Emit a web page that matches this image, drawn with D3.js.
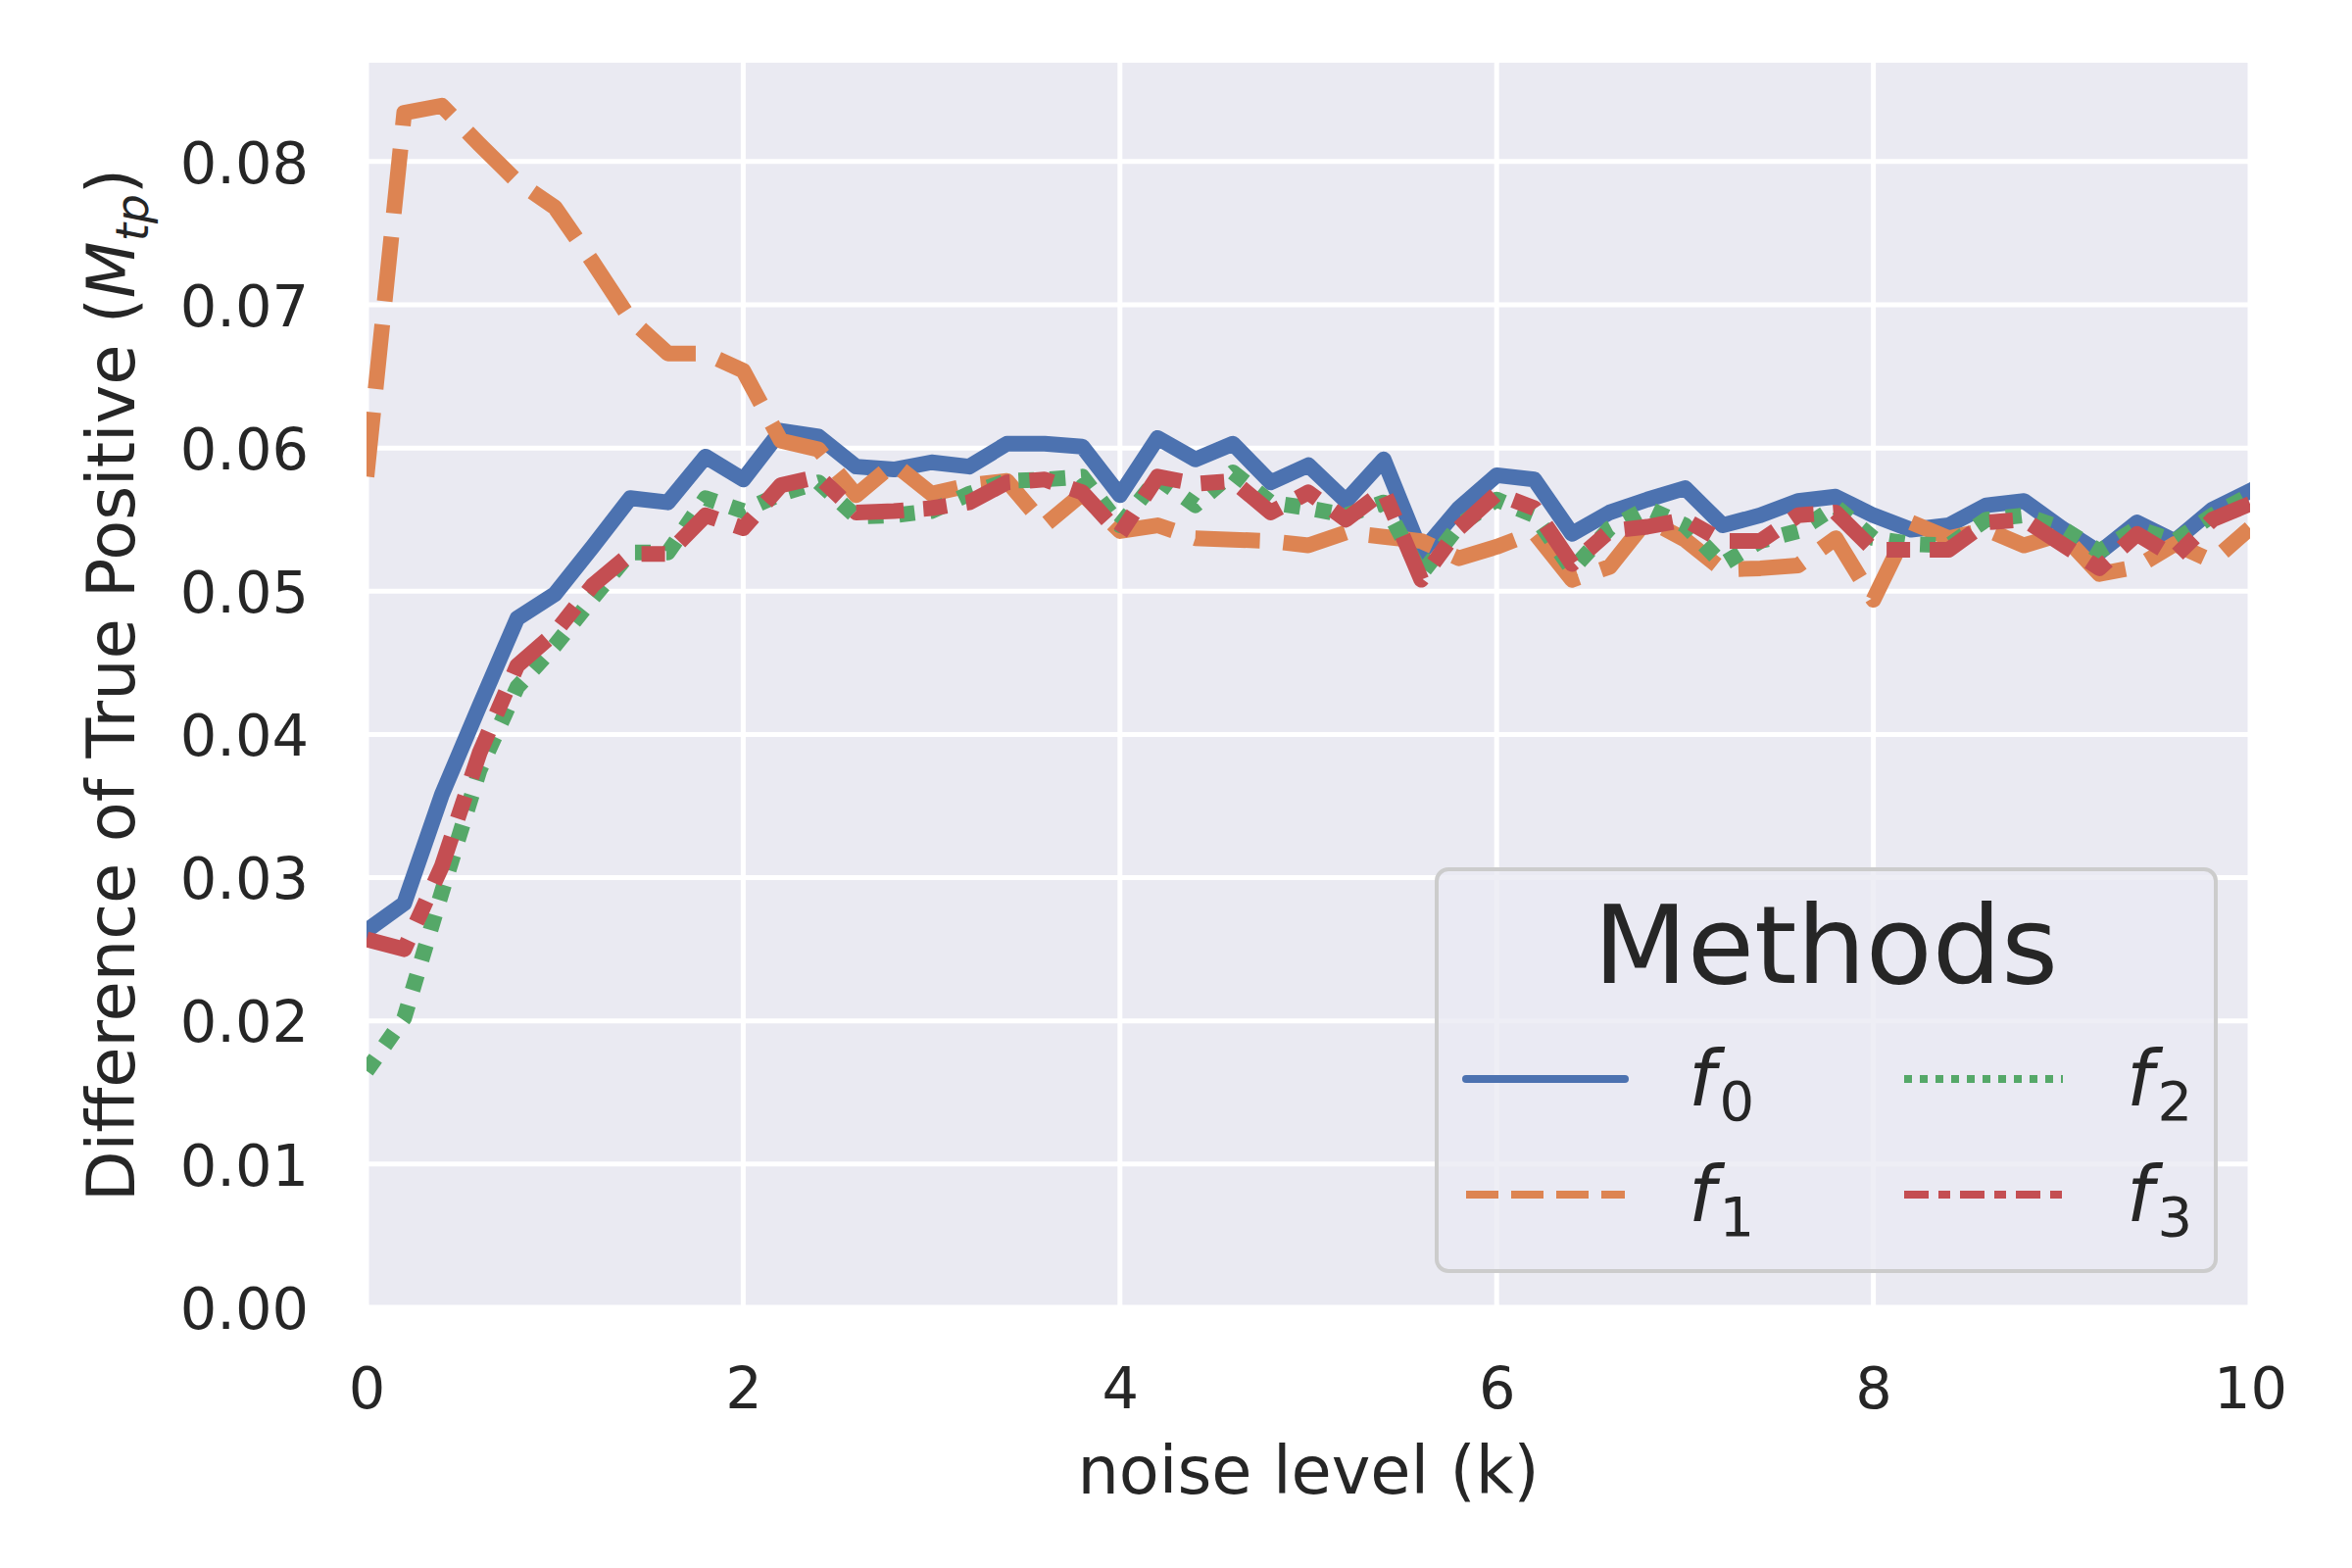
<!DOCTYPE html>
<html>
<head>
<meta charset="utf-8">
<script src="https://cdn.jsdelivr.net/npm/d3@7"></script>
<style>
  body { margin: 0; background: #fff; }
  svg text { font-family: "DejaVu Sans", sans-serif; fill: #262626; }
</style>
</head>
<body>
<div id="chart"></div>
<script>
// noise level grid (k)
const noiseLevels = [
  0.0, 0.2, 0.4, 0.6, 0.8, 1.0, 1.2, 1.4, 1.6, 1.8,
  2.0, 2.2, 2.4, 2.6, 2.8, 3.0, 3.2, 3.4, 3.6, 3.8,
  4.0, 4.2, 4.4, 4.6, 4.8, 5.0, 5.2, 5.4, 5.6, 5.8,
  6.0, 6.2, 6.4, 6.6, 6.8, 7.0, 7.2, 7.4, 7.6, 7.8,
  8.0, 8.2, 8.4, 8.6, 8.8, 9.0, 9.2, 9.4, 9.6, 9.8, 10.0
];

const f0 = [
  0.0263, 0.0282, 0.0358, 0.0420, 0.0481, 0.0498, 0.0531, 0.0565, 0.0562, 0.0594,
  0.0578, 0.0612, 0.0608, 0.0587, 0.0585, 0.0590, 0.0587, 0.0603, 0.0603, 0.0601,
  0.0567, 0.0607, 0.0592, 0.0603, 0.0576, 0.0588, 0.0563, 0.0592, 0.0527, 0.0558,
  0.0581, 0.0578, 0.0540, 0.0555, 0.0564, 0.0572, 0.0546, 0.0553, 0.0563, 0.0566,
  0.0553, 0.0543, 0.0546, 0.0560, 0.0563, 0.0544, 0.0527, 0.0548, 0.0535, 0.0557, 0.0570
];

const f1 = [
  0.0580, 0.0834, 0.0839, 0.0812, 0.0786, 0.0768, 0.0730, 0.0690, 0.0666, 0.0666,
  0.0654, 0.0605, 0.0599, 0.0567, 0.0589, 0.0568, 0.0574, 0.0577, 0.0546, 0.0568,
  0.0542, 0.0546, 0.0537, 0.0536, 0.0535, 0.0532, 0.0541, 0.0538, 0.0535, 0.0523,
  0.0531, 0.0541, 0.0508, 0.0517, 0.0550, 0.0536, 0.0515, 0.0516, 0.0518, 0.0537,
  0.0494, 0.0548, 0.0537, 0.0543, 0.0532, 0.0540, 0.0512, 0.0517, 0.0533, 0.0521, 0.0544
];

const f2 = [
  0.0165, 0.0202, 0.0290, 0.0375, 0.0433, 0.0462, 0.0495, 0.0527, 0.0527, 0.0565,
  0.0556, 0.0568, 0.0576, 0.0552, 0.0553, 0.0556, 0.0568, 0.0577, 0.0578, 0.0580,
  0.0546, 0.0579, 0.0560, 0.0583, 0.0562, 0.0558, 0.0553, 0.0562, 0.0512, 0.0546,
  0.0564, 0.0553, 0.0515, 0.0544, 0.0558, 0.0546, 0.0519, 0.0535, 0.0542, 0.0559,
  0.0537, 0.0533, 0.0532, 0.0550, 0.0553, 0.0544, 0.0528, 0.0544, 0.0535, 0.0553, 0.0567
];

const f3 = [
  0.0257, 0.0250, 0.0308, 0.0387, 0.0448, 0.0471, 0.0504, 0.0526, 0.0526, 0.0553,
  0.0544, 0.0574, 0.0580, 0.0555, 0.0556, 0.0558, 0.0562, 0.0576, 0.0578, 0.0569,
  0.0540, 0.0580, 0.0575, 0.0577, 0.0555, 0.0569, 0.0550, 0.0570, 0.0508, 0.0544,
  0.0568, 0.0558, 0.0519, 0.0542, 0.0545, 0.0550, 0.0535, 0.0535, 0.0553, 0.0555,
  0.0529, 0.0529, 0.0529, 0.0548, 0.0550, 0.0533, 0.0516, 0.0540, 0.0524, 0.0550, 0.0561
];

const methodNames = ["0", "1", "2", "3"];
const xTicks = [0, 2, 4, 6, 8, 10];
const yTicks = [0.00, 0.01, 0.02, 0.03, 0.04, 0.05, 0.06, 0.07, 0.08];

// seaborn "deep" palette + matplotlib style dashes (scaled by line width)
const series = [
  { name: methodNames[0], values: f0, color: "#4C72B0", dash: null,            legendDash: null },
  { name: methodNames[1], values: f1, color: "#DD8452", dash: "66,24",         legendDash: "33,13" },
  { name: methodNames[2], values: f2, color: "#55A868", dash: "16,16",         legendDash: "8,8" },
  { name: methodNames[3], values: f3, color: "#C44E52", dash: "50,20,24,20",   legendDash: "25,10,12,10" }
];

const W = 2400, H = 1600;
const margin = { top: 64, right: 104, bottom: 266, left: 374 };
const innerW = W - margin.left - margin.right;
const innerH = H - margin.top - margin.bottom;

const svg = d3.select("#chart").append("svg")
  .attr("width", W).attr("height", H)
  .style("background", "#fff");

const x = d3.scaleLinear().domain([0, 10]).range([0, innerW]);
const y = d3.scaleLinear().domain([0, 0.0869]).range([innerH, 0]);

const g = svg.append("g").attr("transform", `translate(${margin.left},${margin.top})`);

// plot background
g.append("rect")
  .attr("width", innerW).attr("height", innerH)
  .attr("fill", "#EAEAF2");

// grid lines
g.append("g").selectAll("line.gy").data(yTicks).join("line")
  .attr("x1", 0).attr("x2", innerW)
  .attr("y1", d => y(d)).attr("y2", d => y(d))
  .attr("stroke", "#fff").attr("stroke-width", 5);
g.append("g").selectAll("line.gx").data(xTicks).join("line")
  .attr("y1", 0).attr("y2", innerH)
  .attr("x1", d => x(d)).attr("x2", d => x(d))
  .attr("stroke", "#fff").attr("stroke-width", 5);

// axes (no tick marks, seaborn darkgrid)
const xAxis = g.append("g")
  .attr("transform", `translate(0,${innerH})`)
  .call(d3.axisBottom(x).tickValues(xTicks).tickSize(0).tickFormat(d3.format("d")));
xAxis.select(".domain").remove();
xAxis.selectAll("text")
  .attr("y", 103).attr("dy", null)
  .style("font-size", "59px").attr("fill", "#262626");

const yAxis = g.append("g")
  .call(d3.axisLeft(y).tickValues(yTicks).tickSize(0).tickFormat(d3.format(".2f")));
yAxis.select(".domain").remove();
yAxis.selectAll("text")
  .attr("x", -59).attr("dy", "0.36em")
  .style("font-size", "59px").attr("fill", "#262626");

// lines
svg.append("defs").append("clipPath").attr("id", "plot-clip")
  .append("rect").attr("width", innerW).attr("height", innerH);

const line = d3.line()
  .x((d, i) => x(noiseLevels[i]))
  .y(d => y(d));

const lines = g.append("g").attr("clip-path", "url(#plot-clip)");
series.forEach(s => {
  lines.append("path")
    .attr("d", line(s.values))
    .attr("fill", "none")
    .attr("stroke", s.color)
    .attr("stroke-width", 16)
    .attr("stroke-linejoin", "round")
    .attr("stroke-linecap", s.dash ? "butt" : "square")
    .attr("stroke-dasharray", s.dash);
});

// axis labels
svg.append("text")
  .attr("x", margin.left + innerW / 2).attr("y", 1524)
  .attr("text-anchor", "middle")
  .style("font-size", "67px")
  .text("noise level (k)");

const yl = svg.append("text")
  .attr("transform", `translate(137,${margin.top + innerH / 2}) rotate(-90)`)
  .attr("text-anchor", "middle")
  .style("font-size", "67px");
yl.append("tspan").text("Difference of True Positive (");
yl.append("tspan").style("font-style", "italic").text("M");
yl.append("tspan").style("font-style", "italic").style("font-size", "47px").attr("dy", 14).text("tp");
yl.append("tspan").attr("dy", -14).text(")");

// legend
const lg = svg.append("g");
lg.append("rect")
  .attr("x", 1466).attr("y", 887)
  .attr("width", 795).attr("height", 410)
  .attr("rx", 12)
  .attr("fill", "#EAEAF2").attr("fill-opacity", 0.8)
  .attr("stroke", "#CCCCCC").attr("stroke-width", 4);

lg.append("text")
  .attr("x", 1863).attr("y", 1003)
  .attr("text-anchor", "middle")
  .style("font-size", "111px")
  .text("Methods");

const colX = [1496, 1943];
const rowY = [1101, 1219];
series.forEach((s, i) => {
  const col = Math.floor(i / 2), row = i % 2;
  const x0 = colX[col], yy = rowY[row];
  lg.append("line")
    .attr("x1", x0).attr("x2", x0 + 162)
    .attr("y1", yy).attr("y2", yy)
    .attr("stroke", s.color)
    .attr("stroke-width", 8)
    .attr("stroke-linecap", s.legendDash ? "butt" : "round")
    .attr("stroke-dasharray", s.legendDash);
  const t = lg.append("text")
    .attr("x", x0 + 227).attr("y", yy + 27)
    .style("font-size", "78px");
  t.append("tspan").style("font-style", "italic").text("f");
  t.append("tspan").style("font-size", "56px").attr("dx", 4).attr("dy", 15).text(s.name);
});
</script>
</body>
</html>
